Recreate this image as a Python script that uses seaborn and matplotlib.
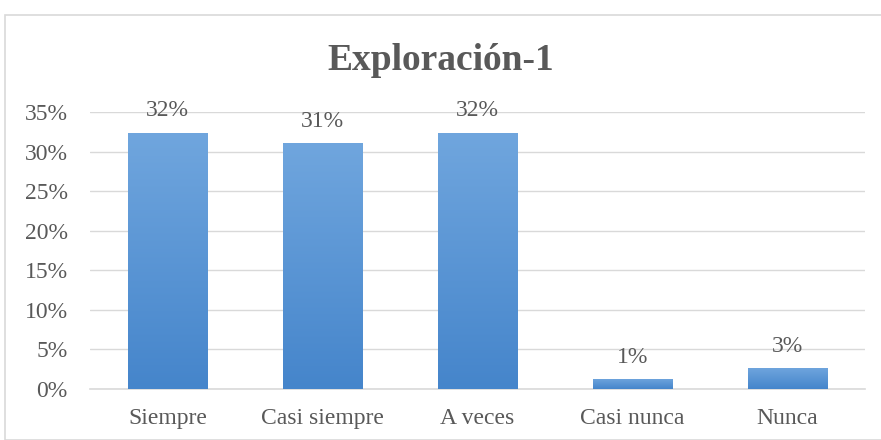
import numpy as np
import pandas as pd
import seaborn as sns
import matplotlib.pyplot as plt
from matplotlib.patches import Rectangle

# Datos
categorias = ['Siempre', 'Casi siempre', 'A veces', 'Casi nunca', 'Nunca']
valores = [0.324, 0.311, 0.324, 0.013, 0.027]
etiquetas = ['32%', '31%', '32%', '1%', '3%']

df = pd.DataFrame({'cat': categorias, 'val': valores})

sns.set_theme(style='white')
plt.rcParams['font.family'] = ['Liberation Serif', 'DejaVu Serif']
gris = '#595959'

fig = plt.figure(figsize=(8.81, 4.4), dpi=100)
# marco exterior del gráfico
fig.patches.append(Rectangle((5 / 881, 0), 1, 1 - 15 / 440, transform=fig.transFigure,
                             fill=False, edgecolor='#d9d9d9', linewidth=1.2))
ax = fig.add_axes([90 / 881, 1 - 389 / 440, 775 / 881, 277 / 440])

sns.barplot(data=df, x='cat', y='val', color='#5b9bd5', width=0.51, ax=ax, zorder=3)

# degradado vertical en cada barra
grad = np.linspace(0, 1, 256).reshape(-1, 1)
cmap = sns.blend_palette(['#4585cb', '#70a6de'], as_cmap=True)
for p in ax.patches:
    x0, y0 = p.get_x(), p.get_y()
    w, h = p.get_width(), p.get_height()
    im = ax.imshow(grad, extent=[x0, x0 + w, y0, y0 + h], origin='lower',
                   aspect='auto', cmap=cmap, zorder=4)
    im.set_clip_path(p)
    p.set_edgecolor('none')

ax.set_xlim(-0.5, 4.5)
ax.set_ylim(0, 0.35)
ax.set_yticks(np.arange(0, 0.351, 0.05))
ax.set_yticklabels([f'{int(round(t * 100))}%' for t in np.arange(0, 0.351, 0.05)])
ax.yaxis.grid(True, color='#d9d9d9', linewidth=1, zorder=0)
ax.tick_params(axis='both', length=0, labelsize=17, colors=gris)
ax.tick_params(axis='y', pad=16)
ax.tick_params(axis='x', pad=14)
for s in ['top', 'right', 'left']:
    ax.spines[s].set_visible(False)
ax.spines['bottom'].set_color('#d9d9d9')
ax.spines['bottom'].set_linewidth(1.2)
ax.set_xlabel('')
ax.set_ylabel('')

for i, (v, t) in enumerate(zip(valores, etiquetas)):
    ax.text(i, v + 0.014, t, ha='center', va='bottom', fontsize=17, color=gris, zorder=5)

fig.text(0.5, 1 - 61 / 440, 'Exploración-1', ha='center', va='center',
         fontsize=27, fontweight='bold', color=gris)

fig.savefig('out.png', dpi=100)
